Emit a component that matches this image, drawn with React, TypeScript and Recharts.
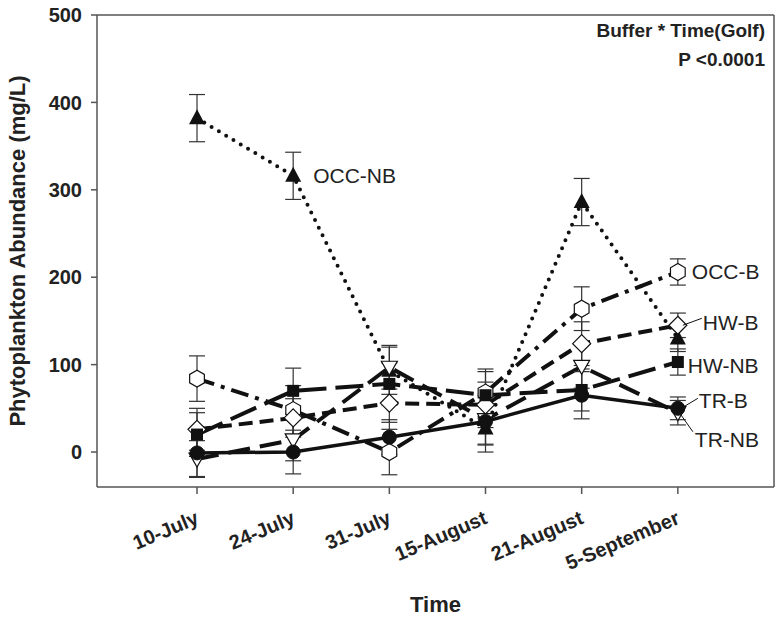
import React from "react";
import {
  ErrorBar,
  LabelList,
  Line,
  LineChart,
  ReferenceLine,
  XAxis,
  YAxis,
} from "recharts";

const dates = ["10-July", "24-July", "31-July", "15-August", "21-August", "5-September"];

const trB = [-1, 0, 17, 35, 65, 50];
const trBErr = [27, 25, 20, 27, 27, 13];
const trNB = [-8, 14, 97, 37, 98, 45];
const trNBErr = [21, 24, 25, 28, 25, 14];
const hwB = [26, 39, 56, 54, 124, 145];
const hwBErr = [24, 22, 22, 26, 25, 14];
const hwNB = [20, 70, 78, 65, 71, 103];
const hwNBErr = [25, 26, 24, 27, 24, 15];
const occB = [84, 48, 0, 68, 164, 206];
const occBErr = [26, 28, 26, 27, 25, 15];
const occNB = [382, 316, 93, 27, 286, 130];
const occNBErr = [27, 27, 27, 27, 27, 15];

const yTicks = [0, 100, 200, 300, 400, 500];

const data = dates.map((d, i) => ({
  t: i + 1,
  trB: trB[i],
  trBErr: trBErr[i],
  trNB: trNB[i],
  trNBErr: trNBErr[i],
  hwB: hwB[i],
  hwBErr: hwBErr[i],
  hwNB: hwNB[i],
  hwNBErr: hwNBErr[i],
  occB: occB[i],
  occBErr: occBErr[i],
  occNB: occNB[i],
  occNBErr: occNBErr[i],
}));

const INK = "#111";
const AXIS = "#555";
const FONT = "'Liberation Sans', Arial, sans-serif";

// marker shapes
const circleDot = (p: any) => (
  <circle key={`c${p.index}`} cx={p.cx} cy={p.cy} r={7} fill={INK} stroke={INK} />
);
const triDown = (p: any) => {
  const { cx, cy } = p;
  return (
    <path
      key={`td${p.index}`}
      d={`M${cx - 8},${cy - 6} L${cx + 8},${cy - 6} L${cx},${cy + 8} Z`}
      fill="#fff"
      stroke={INK}
      strokeWidth={1.2}
    />
  );
};
const diamond = (p: any) => {
  const { cx, cy } = p;
  return (
    <path
      key={`d${p.index}`}
      d={`M${cx},${cy - 9} L${cx + 9},${cy} L${cx},${cy + 9} L${cx - 9},${cy} Z`}
      fill="#fff"
      stroke={INK}
      strokeWidth={1.2}
    />
  );
};
const square = (p: any) => (
  <rect key={`s${p.index}`} x={p.cx - 6} y={p.cy - 6} width={12} height={12} fill={INK} />
);
const hexagon = (p: any) => {
  const { cx, cy } = p;
  const pts = [0, 1, 2, 3, 4, 5]
    .map((k) => {
      const a = (Math.PI / 3) * k + Math.PI / 6;
      return `${cx + 8.5 * Math.cos(a)},${cy + 8.5 * Math.sin(a)}`;
    })
    .join(" ");
  return <polygon key={`h${p.index}`} points={pts} fill="#fff" stroke={INK} strokeWidth={1.2} />;
};
const triUp = (p: any) => {
  const { cx, cy } = p;
  return (
    <path
      key={`tu${p.index}`}
      d={`M${cx},${cy - 9} L${cx + 8},${cy + 6} L${cx - 8},${cy + 6} Z`}
      fill={INK}
    />
  );
};

const seriesLabel =
  (text: string, at: number, dx: number, dy: number, leader?: [number, number, number, number]) =>
  (props: any) => {
    const { x, y, index } = props;
    if (index !== at) return null;
    return (
      <g>
        {leader && (
          <line
            x1={x + leader[0]}
            y1={y + leader[1]}
            x2={x + leader[2]}
            y2={y + leader[3]}
            stroke={INK}
            strokeWidth={1}
          />
        )}
        <text x={x + dx} y={y + dy} fontSize={21} fontFamily={FONT} fill="#222">
          {text}
        </text>
      </g>
    );
  };

const XTick = ({ x, y, payload }: any) => (
  <g transform={`translate(${x + 3},${y + 27})`}>
    <text
      textAnchor="end"
      transform="rotate(-23)"
      fontSize={20}
      fontWeight="bold"
      fontFamily={FONT}
      fill="#222"
    >
      {dates[payload.value - 1]}
    </text>
  </g>
);

const err = (key: string) => (
  <ErrorBar dataKey={key} direction="y" width={8} stroke="#333" strokeWidth={1.2} />
);

export default function App() {
  return (
    <div style={{ position: "absolute", left: 0, top: 0, width: 782, height: 619, background: "#fff" }}>
      <LineChart width={782} height={619} data={data} margin={{ top: 15, right: 8, left: 0, bottom: 0 }}>
        <XAxis
          dataKey="t"
          type="number"
          domain={[-0.04, 7]}
          ticks={[1, 2, 3, 4, 5, 6]}
          height={132}
          stroke={AXIS}
          strokeWidth={1.5}
          tickSize={7}
          tick={<XTick />}
          label={{
            content: (p: any) => (
              <text
                x={p.viewBox.x + p.viewBox.width / 2}
                y={612}
                textAnchor="middle"
                fontSize={22}
                fontWeight="bold"
                fontFamily={FONT}
                fill="#222"
              >
                Time
              </text>
            ),
          }}
        />
        <YAxis
          type="number"
          domain={[-40, 500]}
          ticks={yTicks}
          width={97}
          stroke={AXIS}
          strokeWidth={1.5}
          tickSize={6}
          tickMargin={9}
          tick={{ fontSize: 20, fontWeight: "bold", fontFamily: FONT, fill: "#222" }}
          label={{
            content: (p: any) => {
              const cy = p.viewBox.y + p.viewBox.height / 2;
              return (
                <text
                  x={25}
                  y={cy}
                  transform={`rotate(-90, 25, ${cy})`}
                  textAnchor="middle"
                  fontSize={22}
                  fontWeight="bold"
                  fontFamily={FONT}
                  fill="#222"
                >
                  Phytoplankton Abundance (mg/L)
                </text>
              );
            },
          }}
        />
        <ReferenceLine y={500} stroke={AXIS} strokeWidth={1.5} />
        <ReferenceLine x={7} stroke={AXIS} strokeWidth={1.5} />

        <Line dataKey="occNB" stroke={INK} strokeWidth={4} strokeDasharray="0 8.5" strokeLinecap="round" dot={triUp} isAnimationActive={false}>
          {err("occNBErr")}
          <LabelList content={seriesLabel("OCC-NB", 1, 20, 7)} />
        </Line>
        <Line dataKey="occB" stroke={INK} strokeWidth={4} strokeDasharray="18 7 4 7" dot={hexagon} isAnimationActive={false}>
          {err("occBErr")}
          <LabelList content={seriesLabel("OCC-B", 5, 14, 7)} />
        </Line>
        <Line dataKey="hwB" stroke={INK} strokeWidth={4} strokeDasharray="14 7" dot={diamond} isAnimationActive={false}>
          {err("hwBErr")}
          <LabelList content={seriesLabel("HW-B", 5, 25, 5, [5, 0, 24, -7])} />
        </Line>
        <Line dataKey="hwNB" stroke={INK} strokeWidth={4} strokeDasharray="28 9" dot={square} isAnimationActive={false}>
          {err("hwNBErr")}
          <LabelList content={seriesLabel("HW-NB", 5, 10, 11)} />
        </Line>
        <Line dataKey="trNB" stroke={INK} strokeWidth={4} strokeDasharray="22 10" dot={triDown} isAnimationActive={false}>
          {err("trNBErr")}
          <LabelList content={seriesLabel("TR-NB", 5, 17, 34, [3, 2, 15, 19])} />
        </Line>
        <Line dataKey="trB" stroke={INK} strokeWidth={3.5} dot={circleDot} isAnimationActive={false}>
          {err("trBErr")}
          <LabelList content={seriesLabel("TR-B", 5, 21, 0, [5, -1, 20, -10])} />
        </Line>
      </LineChart>
      <svg width={782} height={80} style={{ position: "absolute", left: 0, top: 0, pointerEvents: "none" }}>
        <text x={765} y={37} textAnchor="end" fontSize={19} fontWeight="bold" fontFamily={FONT} fill="#222">
          Buffer * Time(Golf)
        </text>
        <text x={765} y={66} textAnchor="end" fontSize={19} fontWeight="bold" fontFamily={FONT} fill="#222">
          P &lt;0.0001
        </text>
      </svg>
    </div>
  );
}
